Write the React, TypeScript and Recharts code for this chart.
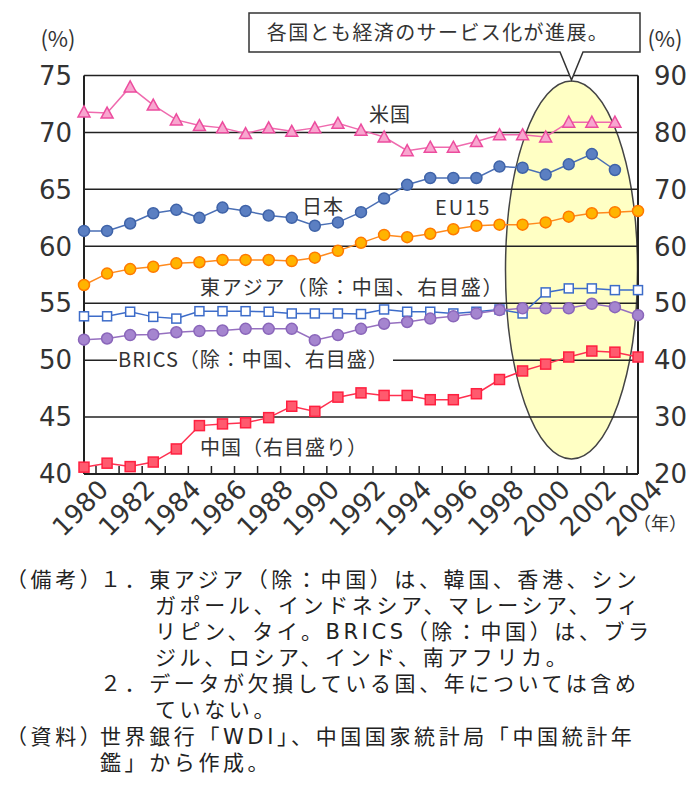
import React from "react"
import { LineChart, Line, XAxis, YAxis, CartesianGrid } from "recharts"

// 年（1980〜2004）
const years = [
  "1980", "1981", "1982", "1983", "1984", "1985", "1986", "1987", "1988", "1989",
  "1990", "1991", "1992", "1993", "1994", "1995", "1996", "1997", "1998", "1999",
  "2000", "2001", "2002", "2003", "2004",
]

// 左目盛（%）
const usa = [71.8, 71.7, 74.0, 72.4, 71.1, 70.6, 70.4, 69.9, 70.4, 70.1, 70.4, 70.8, 70.2, 69.6, 68.4, 68.7, 68.7, 69.2, 69.8, 69.8, 69.6, 70.9, 70.9, 70.9, null]
const japan = [61.35, 61.35, 62.0, 62.9, 63.2, 62.5, 63.4, 63.1, 62.7, 62.5, 61.8, 62.1, 63.0, 64.2, 65.4, 66.0, 66.0, 66.0, 67.0, 66.9, 66.3, 67.2, 68.1, 66.7, null]
const eu15 = [56.6, 57.6, 58.0, 58.2, 58.5, 58.6, 58.8, 58.8, 58.8, 58.7, 59.0, 59.6, 60.3, 61.0, 60.8, 61.1, 61.5, 61.8, 61.9, 61.9, 62.1, 62.6, 62.9, 63.0, 63.1]

// 右目盛（%）
const eastAsia = [47.7, 47.7, 48.5, 47.6, 47.3, 48.6, 48.6, 48.6, 48.5, 48.2, 48.2, 48.2, 48.1, 48.9, 48.5, 48.5, 48.2, 48.5, 48.9, 48.2, 51.9, 52.6, 52.6, 52.3, 52.3]
const brics = [43.6, 43.8, 44.4, 44.5, 44.9, 45.1, 45.2, 45.5, 45.5, 45.5, 43.5, 44.4, 45.5, 46.4, 46.7, 47.3, 47.7, 48.2, 48.8, 49.1, 49.1, 49.1, 49.9, 49.3, 47.9]
const china = [21.2, 21.9, 21.3, 22.1, 24.4, 28.5, 28.8, 29.0, 29.9, 31.9, 31.0, 33.5, 34.25, 33.8, 33.8, 33.05, 33.05, 34.1, 36.6, 38.1, 39.3, 40.55, 41.6, 41.4, 40.55]

const leftTicks = [40, 45, 50, 55, 60, 65, 70, 75]
const rightTicks = [20, 30, 40, 50, 60, 70, 80, 90]

const data = years.map((year, i) => ({
  year,
  usa: usa[i],
  japan: japan[i],
  eu15: eu15[i],
  eastAsia: eastAsia[i],
  brics: brics[i],
  china: china[i],
}))

const W = 692
const CHART_H = 560
const PLOT_BOTTOM = 474
const LEFT_W = 84
const RIGHT_W = 54
const PLOT_W = W - LEFT_W - RIGHT_W
const BAND = PLOT_W / years.length

const JP = "'Noto Sans CJK JP', 'Noto Sans', sans-serif"
const NUM = "'DejaVu Sans', sans-serif"
const INK = "#333"

const XTick = (props: any) => {
  const { x, y, payload, index } = props
  const yr = Number(payload.value)
  return (
    <g>
      {index > 0 && (
        <line x1={x - BAND / 2} x2={x - BAND / 2} y1={y} y2={y - 8} stroke="#222" strokeWidth={1.5} />
      )}
      {yr % 2 === 0 && (
        <text
          x={0}
          y={0}
          transform={`translate(${x + 26},${y + 17}) rotate(-45)`}
          textAnchor="end"
          fill={INK}
          fontSize={26}
          fontFamily={NUM}
        >
          {payload.value}
        </text>
      )}
    </g>
  )
}

const none = (cx: any, cy: any) => cx == null || cy == null || Number.isNaN(cy)

const triangleDot = (p: any) => {
  const { cx, cy, index } = p
  if (none(cx, cy)) return <g key={`us-${index}`} />
  return (
    <path
      key={`us-${index}`}
      d={`M${cx},${cy - 6} L${cx + 6},${cy + 5} L${cx - 6},${cy + 5} Z`}
      fill="#F8A6CF"
      stroke="#EC4C9E"
      strokeWidth={1.5}
    />
  )
}

const circleDot = (fill: string, stroke: string, tag: string) => (p: any) => {
  const { cx, cy, index } = p
  if (none(cx, cy)) return <g key={`${tag}-${index}`} />
  return <circle key={`${tag}-${index}`} cx={cx} cy={cy} r={5.5} fill={fill} stroke={stroke} strokeWidth={1.5} />
}

const squareDot = (fill: string, stroke: string, tag: string, s: number) => (p: any) => {
  const { cx, cy, index } = p
  if (none(cx, cy)) return <g key={`${tag}-${index}`} />
  return (
    <rect key={`${tag}-${index}`} x={cx - s / 2} y={cy - s / 2} width={s} height={s} fill={fill} stroke={stroke} strokeWidth={1.5} />
  )
}

const labelStyle = { fontFamily: JP, fontSize: 20, fill: INK, letterSpacing: 1 }

// 注記は行間が詰まっているので、行の高さが小さいフォントを先頭に置く
const NOTE_FONT = "'DejaVu Sans', 'Noto Sans CJK JP', sans-serif"

const noteLine = (left: number, top: number, text: string) => (
  <div
    style={{
      position: "absolute",
      left,
      top,
      height: 26,
      fontFamily: NOTE_FONT,
      fontSize: 21,
      lineHeight: "26px",
      letterSpacing: 3.6,
      color: "#222",
      whiteSpace: "nowrap",
    }}
  >
    {text}
  </div>
)

export default function App() {
  return (
    <div style={{ position: "absolute", left: 0, top: 0, width: W, height: 796, background: "#fff", overflow: "hidden" }}>
      {/* 楕円（背景） */}
      <svg width={W} height={CHART_H} style={{ position: "absolute", left: 0, top: 0 }}>
        <ellipse cx={571.5} cy={270} rx={66} ry={189} fill="#FFFFC4" stroke="#444" strokeWidth={1.5} />
      </svg>

      <div style={{ position: "absolute", left: 0, top: 0 }}>
        <LineChart width={W} height={CHART_H} data={data} margin={{ top: 75.5, right: 0, bottom: 0, left: 0 }}>
          <CartesianGrid yAxisId="left" vertical={false} stroke="#222" strokeWidth={1.5} />
          <XAxis
            dataKey="year"
            interval={0}
            height={CHART_H - PLOT_BOTTOM}
            tickLine={false}
            tickSize={0}
            tickMargin={0}
            axisLine={{ stroke: "#222", strokeWidth: 2 }}
            tick={<XTick />}
          />
          <YAxis
            yAxisId="left"
            domain={[40, 75]}
            ticks={leftTicks}
            width={LEFT_W}
            tickLine={false}
            tickSize={0}
            tickMargin={12}
            axisLine={{ stroke: "#222", strokeWidth: 2 }}
            tick={{ fill: INK, fontSize: 26, fontFamily: NUM }}
          />
          <YAxis
            yAxisId="right"
            orientation="right"
            domain={[20, 90]}
            ticks={rightTicks}
            width={RIGHT_W}
            tickLine={false}
            tickSize={0}
            tickMargin={16}
            axisLine={{ stroke: "#222", strokeWidth: 2 }}
            tick={{ fill: INK, fontSize: 26, fontFamily: NUM }}
          />
          <Line yAxisId="left" dataKey="usa" stroke="#EF6AAE" strokeWidth={1.5} dot={triangleDot} isAnimationActive={false} />
          <Line yAxisId="left" dataKey="japan" stroke="#4A6FB5" strokeWidth={1.5} dot={circleDot("#5B7FC2", "#3F63A8", "jp")} isAnimationActive={false} />
          <Line yAxisId="left" dataKey="eu15" stroke="#FF8A1E" strokeWidth={1.5} dot={circleDot("#FFB400", "#FF7A00", "eu")} isAnimationActive={false} />
          <Line yAxisId="right" dataKey="eastAsia" stroke="#3D6CC9" strokeWidth={1.5} dot={squareDot("#fff", "#3D6CC9", "ea", 9)} isAnimationActive={false} />
          <Line yAxisId="right" dataKey="brics" stroke="#9670C0" strokeWidth={1.5} dot={circleDot("#A585CF", "#8A66BA", "br")} isAnimationActive={false} />
          <Line yAxisId="right" dataKey="china" stroke="#FF3050" strokeWidth={1.5} dot={squareDot("#FF5A6E", "#FF2040", "cn", 10)} isAnimationActive={false} />
        </LineChart>
      </div>

      {/* 注記 */}
      <svg width={W} height={CHART_H} style={{ position: "absolute", left: 0, top: 0, pointerEvents: "none" }}>
        <text x={58} y={47} textAnchor="middle" fontFamily={JP} fontSize={22} fill={INK}>(%)</text>
        <text x={665} y={47} textAnchor="middle" fontFamily={JP} fontSize={22} fill={INK}>(%)</text>
        <text x={660} y={530} textAnchor="middle" fontFamily={JP} fontSize={18} fill={INK}>（年）</text>

        <path d="M249,13 H640 V52 H583 L571.5,80 L560,52 H249 Z" fill="#fff" stroke="#333" strokeWidth={1.5} />
        <text x={438} y={40} textAnchor="middle" {...labelStyle} letterSpacing={1.4}>各国とも経済のサービス化が進展。</text>

        <text x={369} y={122} {...labelStyle}>米国</text>
        <text x={302} y={214} {...labelStyle}>日本</text>
        <text x={435} y={215} {...labelStyle} letterSpacing={2}>EU15</text>
        <text x={200} y={295} {...labelStyle} letterSpacing={1.8}>東アジア（除：中国、右目盛）</text>
        <rect x={117} y={347} width={276} height={26} fill="#fff" />
        <text x={118} y={367} {...labelStyle}>BRICS（除：中国、右目盛）</text>
        <text x={200} y={455} {...labelStyle}>中国（右目盛り）</text>
      </svg>

      {noteLine(6, 567, "（備考）")}
      {noteLine(100, 567, "１．東アジア（除：中国）は、韓国、香港、シン")}
      {noteLine(155, 593, "ガポール、インドネシア、マレーシア、フィ")}
      {noteLine(155, 619, "リピン、タイ。BRICS（除：中国）は、ブラ")}
      {noteLine(155, 645, "ジル、ロシア、インド、南アフリカ。")}
      {noteLine(100, 671, "２．データが欠損している国、年については含め")}
      {noteLine(155, 697, "ていない。")}
      {noteLine(6, 724, "（資料）")}
      {noteLine(100, 724, "世界銀行「WDI」、中国国家統計局「中国統計年")}
      {noteLine(100, 750, "鑑」から作成。")}
    </div>
  )
}
